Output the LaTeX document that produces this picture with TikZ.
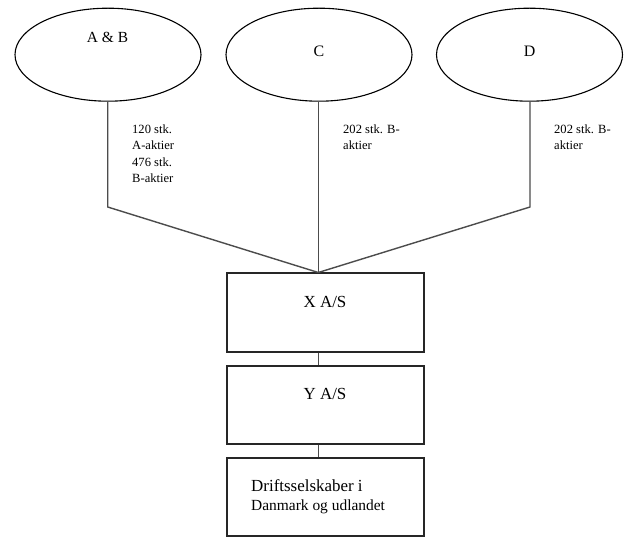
\documentclass[tikz,border=0pt]{standalone}
\usepackage{fontspec}
\setmainfont{Liberation Serif}
\usetikzlibrary{shapes.geometric}
\begin{document}
\begin{tikzpicture}[x=1bp,y=-1bp,
  owner/.style={draw=black,line width=1.1bp,ellipse,minimum width=186bp,minimum height=93bp,inner sep=0pt},
  company/.style={draw=black!85,line width=1.3bp,rectangle,minimum width=197bp,inner sep=0pt},
  link/.style={draw=black!70,line width=1.4bp},
  bigtxt/.style={inner sep=0pt,anchor=base,font=\fontsize{16.5}{19}\selectfont},
  lbltxt/.style={inner sep=0pt,anchor=base west,align=left,font=\fontsize{12.6}{16.4}\selectfont}]
\useasboundingbox (0,0) rectangle (630,546);
\fill[white] (0,0) rectangle (630,546);
% owners
\node[owner] (e1) at (108,54.7) {};
\node[owner] (e2) at (319,54.7) {};
\node[owner] (e3) at (529.5,54.7) {};
\node[bigtxt,font=\fontsize{15.5}{18}\selectfont] (t1) at (107.5,42.3) {A \& B};
\node[bigtxt,font=\fontsize{16}{18}\selectfont] (t2) at (319,56.7) {C};
\node[bigtxt,font=\fontsize{16}{18}\selectfont] (t3) at (529.5,56.7) {D};
% companies
\node[company,minimum height=79bp] (bx) at (325.5,312.5) {};
\node[company,minimum height=78bp] (by) at (325.5,405) {};
\node[company,minimum height=78bp] (bz) at (325.5,497) {};
\node[bigtxt,font=\fontsize{17}{19}\selectfont] (tx) at (325,307.7) {X A/S};
\node[bigtxt,font=\fontsize{17}{19}\selectfont] (ty) at (325,399.3) {Y A/S};
\node[inner sep=0pt,anchor=base west,font=\fontsize{17}{19}\selectfont] (d1) at (251,491.7) {Driftsselskaber i};
\node[inner sep=0pt,anchor=base west,font=\fontsize{15.5}{18}\selectfont] (d2) at (251,510) {Danmark og udlandet};
% share labels (anchored at the baseline of their last line)
\node[lbltxt] (l1) at (132,182.5) {120 stk.\\A-aktier\\476 stk.\\B-aktier};
\node[lbltxt] (l2) at (343,149.7) {202 stk. B-\\aktier};
\node[lbltxt] (l3) at (554,149.7) {202 stk. B-\\aktier};
% connectors
\coordinate (j) at (318.3,272.5);
\coordinate (k1) at (107.7,207);
\coordinate (k3) at (530,207);
\draw[link] (e1.south -| k1) -- (k1) -- (j);
\draw[link] (e2.south -| j) -- (j);
\draw[link] (e3.south -| k3) -- (k3) -- (j);
\draw[link] (bx.south -| j) -- (by.north -| j);
\draw[link] (by.south -| j) -- (bz.north -| j);
\end{tikzpicture}
\end{document}
